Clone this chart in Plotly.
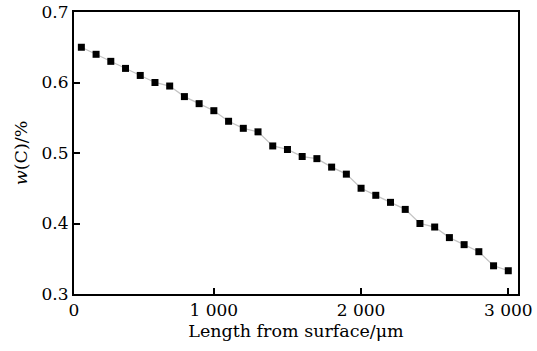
import plotly.graph_objects as go

# Data
length_um = [100, 200, 300, 400, 500, 600, 700, 800, 900, 1000,
             1100, 1200, 1300, 1400, 1500, 1600, 1700, 1800, 1900, 2000,
             2100, 2200, 2300, 2400, 2500, 2600, 2700, 2800, 2900, 3000]
carbon_pct = [0.650, 0.640, 0.630, 0.620, 0.610, 0.600, 0.595, 0.580, 0.570, 0.560,
              0.545, 0.535, 0.530, 0.510, 0.505, 0.495, 0.492, 0.480, 0.470, 0.450,
              0.440, 0.430, 0.420, 0.400, 0.395, 0.380, 0.370, 0.360, 0.340, 0.333]

x_tickvals = [50, 1000, 2000, 3000]
x_ticktext = ["0", "1 000", "2 000", "3 000"]
y_tickvals = [0.3, 0.4, 0.5, 0.6, 0.7]
y_ticktext = ["0.3", "0.4", "0.5", "0.6", "0.7"]

FONT = "DejaVu Serif, serif"

fig = go.Figure()
fig.add_trace(go.Scatter(
    x=length_um, y=carbon_pct, mode="lines+markers",
    line=dict(color="#c4c4c4", width=1.3),
    marker=dict(symbol="square", size=7, color="black"),
    showlegend=False,
))

fig.update_layout(
    template="none",
    width=537, height=351,
    margin=dict(l=73.5, r=19, t=12.3, b=56.7),
    paper_bgcolor="white", plot_bgcolor="white",
    font=dict(family=FONT, size=17, color="black"),
)
fig.update_xaxes(
    range=[50, 3066], tickvals=x_tickvals, ticktext=x_ticktext,
    ticks="inside", ticklen=6, tickwidth=1.5, tickcolor="black",
    showline=True, linecolor="black", linewidth=2, mirror=True,
    showgrid=False, zeroline=False, automargin=False,
    ticklabeloverflow="allow",
    title=dict(text="Length from surface/μm", font=dict(family=FONT, size=17.5), standoff=5),
    tickfont=dict(family=FONT, size=17),
)
fig.update_yaxes(
    range=[0.3, 0.7], tickvals=y_tickvals, ticktext=y_ticktext,
    ticks="inside", ticklen=6, tickwidth=1.5, tickcolor="black",
    showline=True, linecolor="black", linewidth=2, mirror=True,
    showgrid=False, zeroline=False, automargin=False,
    ticklabeloverflow="allow",
    title=dict(text="<i>w</i>(C)/%", font=dict(family=FONT, size=17.5), standoff=9),
    tickfont=dict(family=FONT, size=17),
)

fig.write_html(
    "out.html",
    config={"displayModeBar": False},
    post_script="document.body.style.margin='0';document.body.style.overflow='hidden';",
)
